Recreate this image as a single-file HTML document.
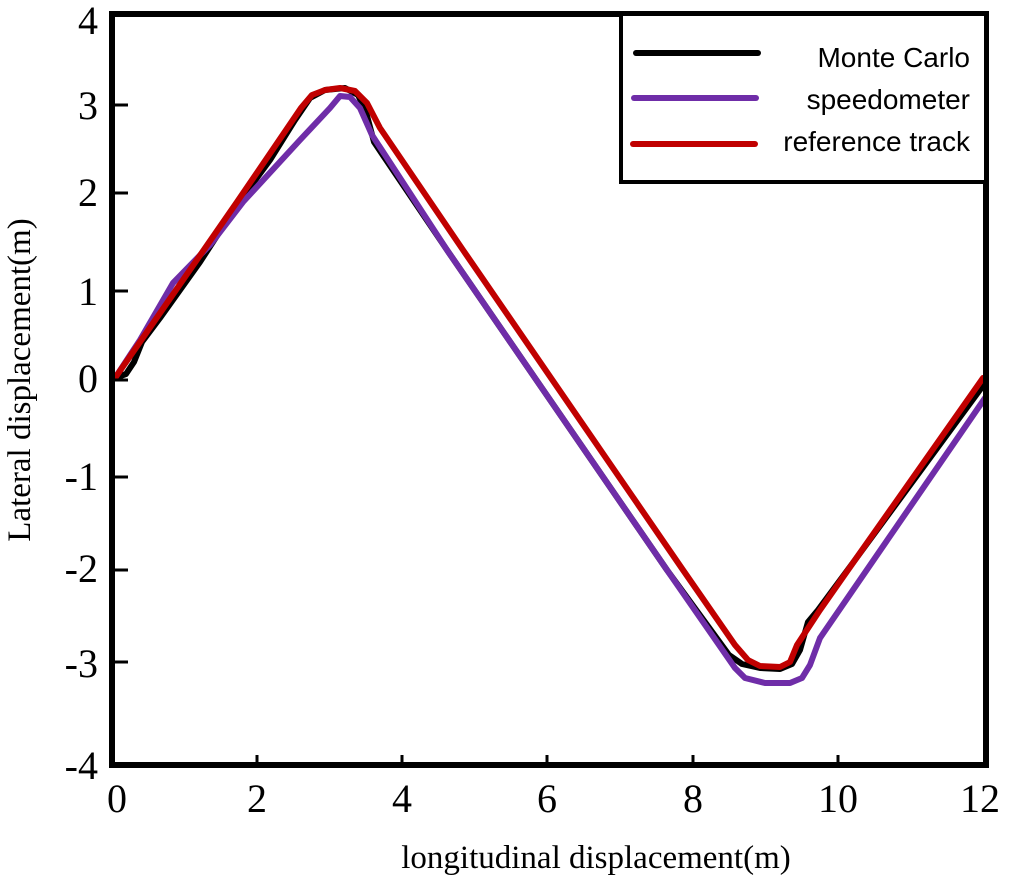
<!DOCTYPE html>
<html><head><style>
html,body{margin:0;padding:0;background:#fff;}
svg{display:block;}
text{font-family:"Liberation Serif",serif;fill:#000;}
.leg{font-family:"Liberation Sans",sans-serif;font-size:28px;}
</style></head><body>
<svg width="1009" height="881" viewBox="0 0 1009 881">
<g fill="none" stroke-linejoin="round" stroke-linecap="round" stroke-width="6">
<polyline stroke="#000" points="115,378 126,374 134,362 142,342 160,318 200,262 237,205 270,160 295,120 310,98 325,90 345,88 358,95 366,112 374,142 447,250 667,570 729,655 742,664 760,668 780,669 792,664 800,650 808,622 818,610 855,560 985,383"/>
<polyline stroke="#6f2da8" points="115,378 140,340 173,283 210,245 243,202 300,140 330,108 340,96 350,97 360,108 372,135 447,250 667,570 735,668 745,678 765,683 790,683 802,678 810,665 820,638 985,398"/>
<polyline stroke="#c00000" points="115,378 237,202 301,108 312,95 325,90 340,88 355,91 367,103 380,128 463,250 683,570 735,645 748,660 760,666 780,667 790,662 797,645 820,610 855,560 983,378"/>
</g>
<rect x="112" y="14" width="874" height="751" fill="none" stroke="#000" stroke-width="6"/>
<g stroke="#000" stroke-width="3">
<line x1="112" y1="105" x2="128" y2="105"/>
<line x1="112" y1="193" x2="128" y2="193"/>
<line x1="112" y1="291" x2="128" y2="291"/>
<line x1="112" y1="380" x2="128" y2="380"/>
<line x1="112" y1="477" x2="128" y2="477"/>
<line x1="112" y1="570" x2="128" y2="570"/>
<line x1="112" y1="662" x2="128" y2="662"/>
<line x1="257" y1="765" x2="257" y2="755"/>
<line x1="402" y1="765" x2="402" y2="755"/>
<line x1="547" y1="765" x2="547" y2="755"/>
<line x1="693" y1="765" x2="693" y2="755"/>
<line x1="838" y1="765" x2="838" y2="755"/>
</g>
<rect x="621" y="14" width="365" height="168" fill="#fff" stroke="#000" stroke-width="4"/>
<g stroke-linecap="round" stroke-width="6">
<line x1="636" y1="53" x2="758" y2="53" stroke="#000"/>
<line x1="634" y1="98" x2="756" y2="98" stroke="#6f2da8"/>
<line x1="633" y1="144" x2="755" y2="144" stroke="#c00000"/>
</g>
<text class="leg" x="970" y="67" text-anchor="end">Monte Carlo</text>
<text class="leg" x="970" y="109" text-anchor="end">speedometer</text>
<text class="leg" x="970" y="151" text-anchor="end">reference track</text>
<g font-size="40" text-anchor="end">
<text x="98" y="34">4</text>
<text x="98" y="119">3</text>
<text x="98" y="206">2</text>
<text x="98" y="305">1</text>
<text x="98" y="392">0</text>
<text x="98" y="490">-1</text>
<text x="98" y="582">-2</text>
<text x="98" y="677">-3</text>
<text x="98" y="779">-4</text>
</g>
<g font-size="40" text-anchor="middle">
<text x="117" y="812">0</text>
<text x="257" y="812">2</text>
<text x="402" y="812">4</text>
<text x="547" y="812">6</text>
<text x="693" y="812">8</text>
<text x="838" y="812">10</text>
<text x="980" y="812">12</text>
</g>
<text x="596" y="868" font-size="33" text-anchor="middle">longitudinal displacement(m)</text>
<text transform="translate(30,380) rotate(-90)" font-size="33" text-anchor="middle">Lateral displacement(m)</text>
</svg>
</body></html>
